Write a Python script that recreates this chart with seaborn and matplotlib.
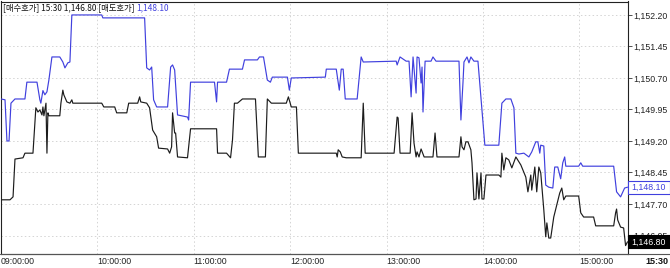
import matplotlib
matplotlib.use("Agg")
import matplotlib.pyplot as plt
import matplotlib.transforms as mtransforms
from matplotlib.patches import Rectangle
from matplotlib.lines import Line2D
import pandas as pd
import seaborn as sns

# ---- data (minutes after 09:00, price) ----
ask_minutes = [0, 2.5, 3.7, 5.0, 6.2, 8.7, 14.9, 16.1, 22.4, 24.2, 24.8, 26.1, 27.3, 28.6, 29.8, 31.7, 36.6, 38.5, 39.8, 41.6,
               42.9, 44.1, 62.7, 63.4, 89.4, 90.7, 92.5, 93.8, 95.0, 96.9, 103.7, 105.6, 106.8, 108.1, 109.9, 116.1, 116.8, 118.0,
               132.9, 134.2, 134.8, 140.4, 142.2, 150.3, 151.6, 159.6, 160.9, 163.4, 165.8, 167.7, 168.9, 178.3, 179.5, 180.7,
               201.9, 202.5, 208.7, 210.6, 211.8, 213.0, 214.3, 221.7, 224.2, 225.5, 246.0, 246.6, 248.4, 252.2, 254.0, 255.3,
               256.5, 258.4, 259.0, 260.2, 261.5, 262.1, 262.7, 264.0, 267.7, 268.9, 270.8, 285.1, 286.3, 287.6, 288.2, 290.1,
               291.3, 292.5, 294.4, 296.9, 301.2, 309.9, 311.8, 314.3, 317.4, 319.3, 320.5, 322.4, 325.5, 328.6, 330.4, 332.9,
               334.2, 335.4, 336.0, 337.9, 339.1, 341.0, 343.5, 344.7, 346.6, 348.4, 349.7, 350.9, 351.6, 359.6, 360.9, 362.1,
               381.4, 383.2, 385.7, 388.2, 390]
ask_prices = [1150.20, 1150.18, 1149.20, 1149.20, 1150.10, 1150.20, 1150.20, 1150.60, 1150.60, 1150.18, 1150.10, 1150.40,
              1150.30, 1150.37, 1150.65, 1151.20, 1151.20, 1151.08, 1150.94, 1151.06, 1151.08, 1152.20, 1152.20, 1152.13,
              1152.13, 1150.94, 1150.89, 1150.96, 1150.18, 1150.01, 1150.01, 1150.96, 1151.01, 1150.89, 1149.82, 1149.77,
              1149.70, 1150.60, 1150.60, 1150.13, 1150.60, 1150.60, 1150.91, 1150.91, 1151.13, 1151.13, 1151.20, 1151.20,
              1150.65, 1150.60, 1150.72, 1150.72, 1150.41, 1150.70, 1150.72, 1150.91, 1150.91, 1150.41, 1150.91, 1150.91,
              1150.20, 1150.20, 1151.20, 1151.08, 1151.10, 1151.01, 1151.20, 1151.10, 1151.10, 1150.25, 1151.20, 1150.34,
              1151.20, 1151.18, 1150.58, 1150.96, 1149.89, 1151.10, 1151.10, 1151.20, 1151.10, 1151.10, 1149.70, 1150.60,
              1151.08, 1151.20, 1151.06, 1151.20, 1151.10, 1151.10, 1149.10, 1149.10, 1150.10, 1150.20, 1150.20, 1149.99,
              1148.91, 1148.89, 1148.91, 1148.82, 1148.94, 1149.18, 1149.18, 1148.91, 1149.10, 1149.08, 1148.15, 1148.10,
              1148.08, 1148.58, 1148.58, 1148.30, 1148.68, 1148.82, 1148.60, 1148.60, 1148.68, 1148.60, 1148.60, 1147.99,
              1147.87, 1148.08, 1148.10]

bid_minutes = [0, 5.6, 7.5, 8.7, 13.7, 14.9, 19.9, 21.7, 23.0, 24.2, 25.5, 26.1, 26.7, 28.0, 28.6, 29.2, 29.8, 36.6, 37.3,
               38.5, 39.1, 41.0, 42.9, 44.1, 44.7, 62.7, 64.0, 70.8, 72.0, 78.3, 79.5, 85.1, 86.3, 87.0, 90.7, 92.5, 94.4,
               96.9, 98.1, 103.7, 105.0, 106.2, 106.8, 108.1, 108.7, 109.9, 116.1, 118.0, 134.2, 134.8, 140.4, 142.9, 144.1,
               145.3, 147.2, 150.3, 158.4, 160.2, 164.6, 165.8, 168.3, 177.6, 178.9, 180.7, 183.9, 185.1, 208.7, 209.3,
               209.9, 211.2, 212.4, 214.9, 224.2, 225.5, 226.7, 244.7, 246.6, 247.2, 248.4, 254.7, 255.9, 257.1, 258.4,
               259.0, 260.2, 261.5, 263.4, 268.9, 270.2, 271.4, 285.1, 286.3, 287.0, 288.2, 289.4, 290.7, 292.5, 293.2,
               294.4, 295.7, 296.3, 297.5, 298.8, 299.4, 300.6, 301.9, 309.9, 311.2, 311.8, 313.0, 314.3, 316.1, 318.0,
               320.5, 323.6, 326.7, 328.0, 329.8, 330.4, 332.3, 333.5, 334.8, 336.0, 337.9, 339.1, 339.8, 341.0, 342.2,
               344.1, 346.0, 347.8, 349.1, 350.3, 351.6, 359.6, 360.9, 362.7, 368.9, 370.2, 381.4, 382.6, 383.2, 383.9,
               385.7, 387.6, 388.8, 390]
bid_prices = [1147.80, 1147.80, 1147.87, 1148.77, 1148.80, 1148.91, 1148.91, 1149.99, 1149.89, 1149.94, 1149.82, 1150.01,
              1149.80, 1150.10, 1148.91, 1149.87, 1149.80, 1149.80, 1150.10, 1150.41, 1150.30, 1150.13, 1150.10, 1150.18,
              1150.10, 1150.10, 1150.01, 1150.01, 1149.87, 1149.87, 1150.10, 1150.10, 1150.25, 1150.13, 1150.10, 1149.99,
              1149.46, 1149.30, 1149.03, 1149.01, 1148.91, 1149.06, 1149.87, 1149.39, 1149.39, 1148.82, 1148.80, 1149.49,
              1149.49, 1148.91, 1148.91, 1148.80, 1149.22, 1150.10, 1150.10, 1150.20, 1150.20, 1148.82, 1148.82, 1150.20,
              1150.10, 1150.10, 1150.25, 1150.01, 1150.01, 1148.91, 1148.91, 1148.82, 1148.99, 1148.94, 1148.82, 1148.80,
              1148.80, 1150.10, 1148.91, 1148.91, 1149.77, 1149.75, 1148.91, 1148.91, 1149.87, 1149.15, 1148.82, 1148.94,
              1148.82, 1149.01, 1148.82, 1148.82, 1149.39, 1148.82, 1148.82, 1149.30, 1149.06, 1148.99, 1149.18, 1149.18,
              1148.99, 1148.68, 1147.80, 1147.82, 1148.44, 1147.82, 1148.44, 1147.82, 1147.82, 1148.39, 1148.39, 1148.34,
              1148.91, 1148.51, 1148.80, 1148.75, 1148.56, 1148.82, 1148.63, 1148.34, 1147.99, 1148.39, 1148.03, 1148.58,
              1147.99, 1148.58, 1148.44, 1147.56, 1146.92, 1147.25, 1146.89, 1146.89, 1147.39, 1147.68, 1147.96, 1148.08,
              1147.80, 1147.89, 1147.89, 1147.49, 1147.39, 1147.39, 1147.18, 1147.18, 1147.49, 1147.58, 1147.32, 1147.15,
              1147.13, 1146.71, 1146.80]

y_ticks = [1146.95, 1147.70, 1148.45, 1149.20, 1149.95, 1150.70, 1151.45, 1152.20]
x_tick_minutes = [0, 60, 120, 180, 240, 300, 360]
x_tick_labels = ["09:00:00", "10:00:00", "11:00:00", "12:00:00", "13:00:00", "14:00:00", "15:00:00"]
bid_last = 1146.80
ask_last = 1148.10
title_black = "[매수호가] 15:30 1,146.80 [매도호가] "
title_blue = "1,148.10"
end_label = "15:30"

# ---- styling ----
sns.set_theme(style="white")
plt.rcParams["font.family"] = ["Liberation Sans", "DejaVu Sans"]

W, H = 670, 268
fig = plt.figure(figsize=(W / 100, H / 100), dpi=100)
fig.patch.set_facecolor("white")
left_px, right_px, top_px, bot_px = 1.0, 627.5, 1.5, 254.0
ax = fig.add_axes([left_px / W, 1 - bot_px / H, (right_px - left_px) / W, (bot_px - top_px) / H])

BLUE = "#4040de"
BLACK = "#1c1c1c"

ask_df = pd.DataFrame({"minute": ask_minutes, "price": ask_prices})
bid_df = pd.DataFrame({"minute": bid_minutes, "price": bid_prices})
sns.lineplot(data=ask_df, x="minute", y="price", ax=ax, color=BLUE, linewidth=0.85,
             estimator=None, sort=False, zorder=3)
sns.lineplot(data=bid_df, x="minute", y="price", ax=ax, color=BLACK, linewidth=0.85,
             estimator=None, sort=False, zorder=3)

ax.set_xlim(0, 390)
ax.set_ylim(1146.51, 1152.52)
ax.set_xlabel("")
ax.set_ylabel("")

# grid
ax.set_xticks(x_tick_minutes)
ax.set_yticks(y_ticks)
ax.grid(True, color="#d4d4d4", linestyle=(0, (1.5, 2.5)), linewidth=0.7)
ax.set_axisbelow(True)

# ticks
ax.yaxis.tick_right()
ax.set_yticklabels([f"{v:,.2f}" for v in y_ticks])
ax.tick_params(axis="y", which="major", direction="out", length=3, width=0.6, color="#333333",
               labelsize=6.3, labelcolor="#222222", pad=1.5, right=True, left=False)
ax.set_xticklabels(x_tick_labels)
ax.tick_params(axis="x", length=0, labelsize=6.3, labelcolor="#222222", pad=1.8)
for lab in ax.get_xticklabels():
    lab.set_horizontalalignment("left")

for side in ["left", "right", "top", "bottom"]:
    ax.spines[side].set_color("#222222")
    ax.spines[side].set_linewidth(0.8)
    ax.spines[side].set_visible(True)

# bottom line across whole figure
fig.add_artist(Line2D([0, 1], [1 - bot_px / H, 1 - bot_px / H], color="#555555", linewidth=0.8))

# last value boxes on the right axis
trans = mtransforms.blended_transform_factory(ax.transAxes, ax.transData)
box_w = (W - right_px) / (right_px - left_px)
px_per_val = 42.0
half_h = 6.5 / px_per_val
ax.add_patch(Rectangle((1.0, ask_last - half_h), box_w, 2 * half_h, transform=trans, clip_on=False,
                       facecolor="white", edgecolor=BLUE, linewidth=0.8, zorder=10))
ax.text(1.0 + 4 / (right_px - left_px), ask_last, f"{ask_last:,.2f}", transform=trans, color=BLUE,
        fontsize=6.3, va="center", ha="left", zorder=11, clip_on=False)
ax.add_patch(Rectangle((1.0, bid_last - half_h), box_w, 2 * half_h, transform=trans, clip_on=False,
                       facecolor="black", edgecolor="black", linewidth=0.8, zorder=10))
ax.text(1.0 + 4 / (right_px - left_px), bid_last, f"{bid_last:,.2f}", transform=trans, color="white",
        fontsize=6.3, va="center", ha="left", zorder=11, clip_on=False)

# end time label
fig.text(668 / W, 1 - 261 / H, end_label, ha="right", va="center", fontsize=6.5,
         fontweight="bold", color="#111111")

# header text (two colours)
fam = ["Noto Sans CJK KR", "DejaVu Sans"]
t1 = fig.text(3 / W, 1 - 7.5 / H, title_black, ha="left", va="center", fontsize=6.0,
              color="#111111", family=fam, zorder=20)
fig.canvas.draw()
bb = t1.get_window_extent(renderer=fig.canvas.get_renderer())
fig.text(bb.x1 / W, 1 - 7.5 / H, title_blue, ha="left", va="center", fontsize=6.0,
         color=BLUE, family=fam, zorder=20)

fig.savefig("out.png", dpi=100, facecolor="white")
